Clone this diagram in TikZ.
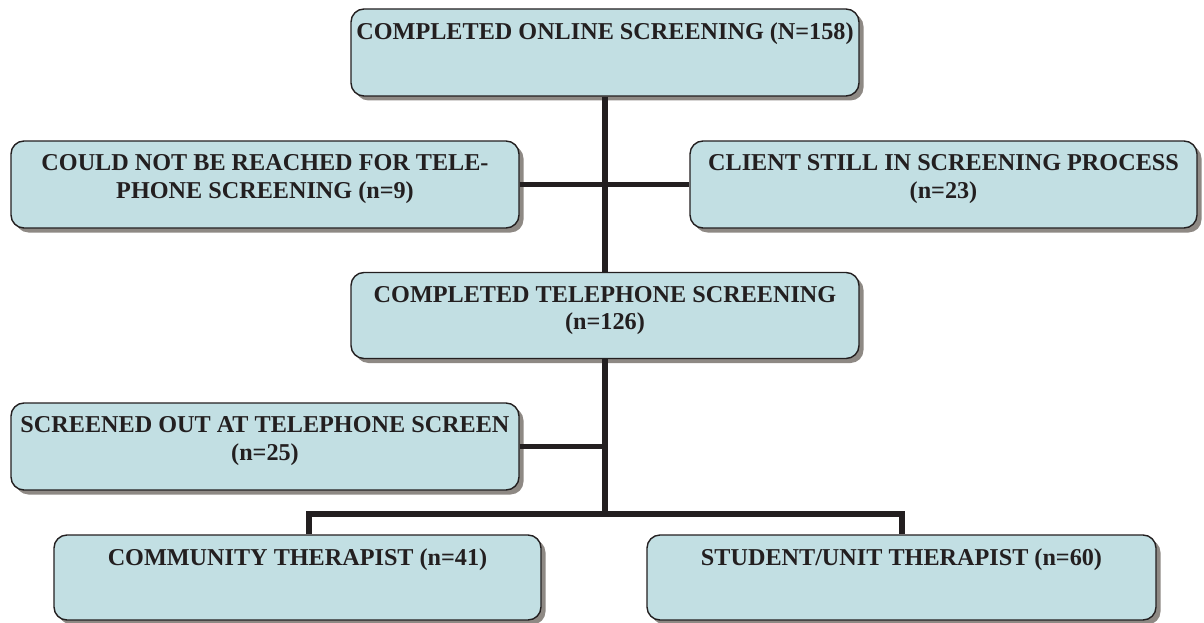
\documentclass[tikz,border=0pt]{standalone}
\usepackage{fontspec}
\setmainfont{Liberation Serif}
\usetikzlibrary{shadows}
\definecolor{boxfill}{HTML}{C2DFE3}
\definecolor{shadowgray}{HTML}{8E8984}
\definecolor{ink}{HTML}{231F20}
\newcommand{\boxtxt}[3]{\begin{minipage}[c][#1pt][t]{#2pt}\centering\vspace*{13.5pt}\fontsize{24.2}{27.5}\selectfont\bfseries #3\end{minipage}}
\tikzset{
  flowbox/.style={draw=ink, line width=1.4pt, fill=boxfill, rounded corners=13pt,
    inner sep=0pt, text=ink,
    drop shadow={shadow xshift=4.5pt, shadow yshift=-4.5pt, fill=shadowgray, opacity=1}},
  link/.style={draw=ink, line width=5.5pt, line join=miter, line cap=butt}
}
\begin{document}
\begin{tikzpicture}[x=1pt, y=-1pt]
\useasboundingbox (0,0) rectangle (1204,623);
\coordinate (j) at (605,514);
\coordinate (l) at (309,514);
\coordinate (r) at (902,514);
\node[flowbox] (b1) at (605,52.5) {\boxtxt{87}{508}{COMPLETED ONLINE SCREENING (N=158)}};
\node[flowbox] (b2) at (265,184.5) {\boxtxt{87}{508}{COULD NOT BE REACHED FOR TELE-\\PHONE SCREENING (n=9)}};
\node[flowbox] (b3) at (943.5,184.5) {\boxtxt{87}{507}{CLIENT STILL IN SCREENING PROCESS\\(n=23)}};
\node[flowbox] (b4) at (605,315.5) {\boxtxt{86}{508}{COMPLETED TELEPHONE SCREENING\\(n=126)}};
\node[flowbox] (b5) at (265,446.5) {\boxtxt{87}{508}{SCREENED OUT AT TELEPHONE SCREEN\\(n=25)}};
\node[flowbox] (b6) at (297.5,577.5) {\boxtxt{85}{487}{COMMUNITY THERAPIST (n=41)}};
\node[flowbox] (b7) at (901.5,577.5) {\boxtxt{85}{509}{STUDENT/UNIT THERAPIST (n=60)}};
\draw[link] (b1.south) -- (b4.north);
\draw[link] (b2.east) -- (b3.west);
\draw[link] (b4.south) -- (j);
\draw[link] (b5.east) -- (b5.east -| j);
\draw[link] (b6.north -| l) -- (l) -- (r) -- (b7.north -| r);
\end{tikzpicture}
\end{document}
